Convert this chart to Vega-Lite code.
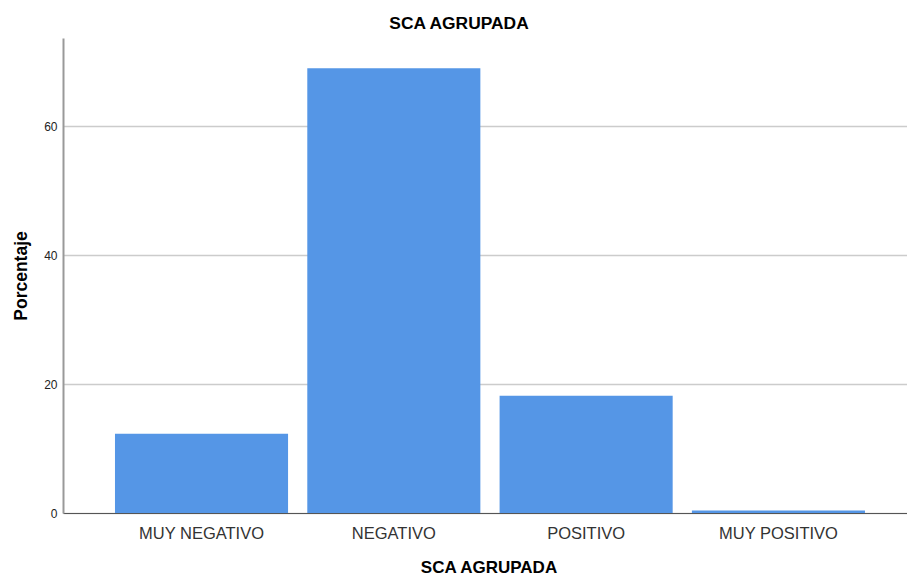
{
  "$schema": "https://vega.github.io/schema/vega-lite/v6.json",
  "width": 844,
  "height": 475,
  "autosize": {"type": "none"},
  "padding": {"left": 63, "top": 38, "right": 0, "bottom": 65},
  "background": "white",
  "title": {
    "text": "SCA AGRUPADA",
    "font": "Liberation Sans",
    "fontSize": 17.4,
    "fontWeight": "bold",
    "color": "#000000",
    "anchor": "middle",
    "dx": -26,
    "offset": 6
  },
  "data": {
    "values": [
      {"categoria": "MUY NEGATIVO", "porcentaje": 12.3},
      {"categoria": "NEGATIVO", "porcentaje": 69.0},
      {"categoria": "POSITIVO", "porcentaje": 18.2},
      {"categoria": "MUY POSITIVO", "porcentaje": 0.4}
    ]
  },
  "mark": {"type": "bar", "color": "#5596E6"},
  "encoding": {
    "x": {
      "field": "categoria",
      "type": "nominal",
      "sort": null,
      "title": "SCA AGRUPADA",
      "scale": {"paddingInner": 0.1, "paddingOuter": 0.2444, "align": 0.553},
      "axis": {
        "labelAngle": 0,
        "labelFont": "Liberation Sans",
        "labelFontSize": 16.5,
        "labelColor": "#333333",
        "labelPadding": 12,
        "ticks": false,
        "domainColor": "#555555",
        "domainWidth": 1.2,
        "titleFont": "Liberation Sans",
        "titleFontSize": 17,
        "titleFontWeight": "bold",
        "titleColor": "#000000",
        "titlePadding": 18,
        "titleX": 425.5,
        "titleAnchor": "middle"
      }
    },
    "y": {
      "field": "porcentaje",
      "type": "quantitative",
      "title": "Porcentaje",
      "scale": {"domain": [0, 73.7], "nice": false, "zero": true},
      "axis": {
        "values": [0, 20, 40, 60],
        "labelFont": "Liberation Sans",
        "labelFontSize": 12,
        "labelColor": "#222222",
        "labelPadding": 6,
        "ticks": false,
        "domainColor": "#999999",
        "domainWidth": 2,
        "grid": true,
        "gridColor": "#cccccc",
        "gridWidth": 1.5,
        "titleFont": "Liberation Sans",
        "titleFontSize": 17.5,
        "titleFontWeight": "bold",
        "titleColor": "#000000",
        "titlePadding": 13
      }
    }
  },
  "config": {"view": {"stroke": null}}
}
